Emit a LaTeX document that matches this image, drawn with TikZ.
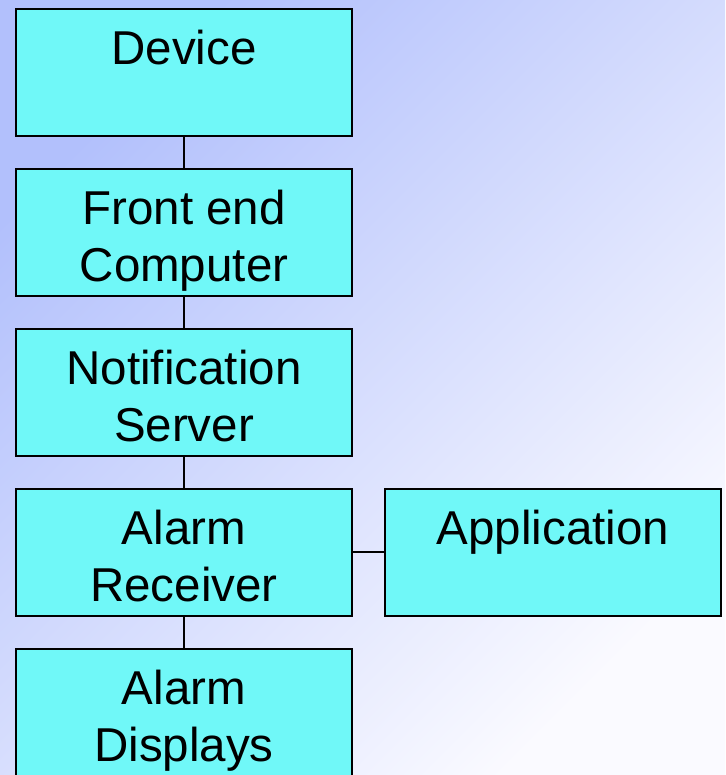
\documentclass[tikz,border=0pt]{standalone}
\usepackage{fontspec}
\setmainfont{Liberation Sans}
\usetikzlibrary{positioning}
\definecolor{boxfill}{HTML}{70F8F8}
\definecolor{bgtop}{HTML}{B2C0FC}
\definecolor{bgbottom}{HTML}{FAFAFF}
% two text lines hung from the top of a box
\newcommand{\stagetext}[2]{\rule{0pt}{42pt}#1\\\raisebox{0pt}[0pt][0pt]{#2}}

\begin{document}
\begin{tikzpicture}[
  x=1pt,y=1pt,
  font=\fontsize{47.5}{57}\selectfont,
  stage/.style={draw=black,fill=boxfill,line width=2.5pt,outer sep=0pt,minimum width=336pt,minimum height=127pt,inner sep=0pt,align=center},
  link/.style={draw=black,line width=2pt}
]
% backdrop
\shade[top color=bgtop,bottom color=bgbottom,shading angle=45] (0,0) rectangle (725,775);
\useasboundingbox (0,0) rectangle (725,775);

\node[stage] (dev) at (184,702.5) {\stagetext{Device}{}};
\node[stage,below=33pt of dev] (fec) {\stagetext{Front end}{Computer}};
\node[stage,below=33pt of fec] (ns) {\stagetext{Notification}{Server}};
\node[stage,below=33pt of ns] (rec) {\stagetext{Alarm}{Receiver}};
\node[stage,below=33pt of rec] (disp) {\stagetext{Alarm}{Displays}};
\node[stage,right=33pt of rec] (app) {\stagetext{Application}{}};

\draw[link] (dev)--(fec);
\draw[link] (fec)--(ns);
\draw[link] (ns)--(rec);
\draw[link] (rec)--(disp);
\draw[link] (rec)--(app);
\end{tikzpicture}
\end{document}
